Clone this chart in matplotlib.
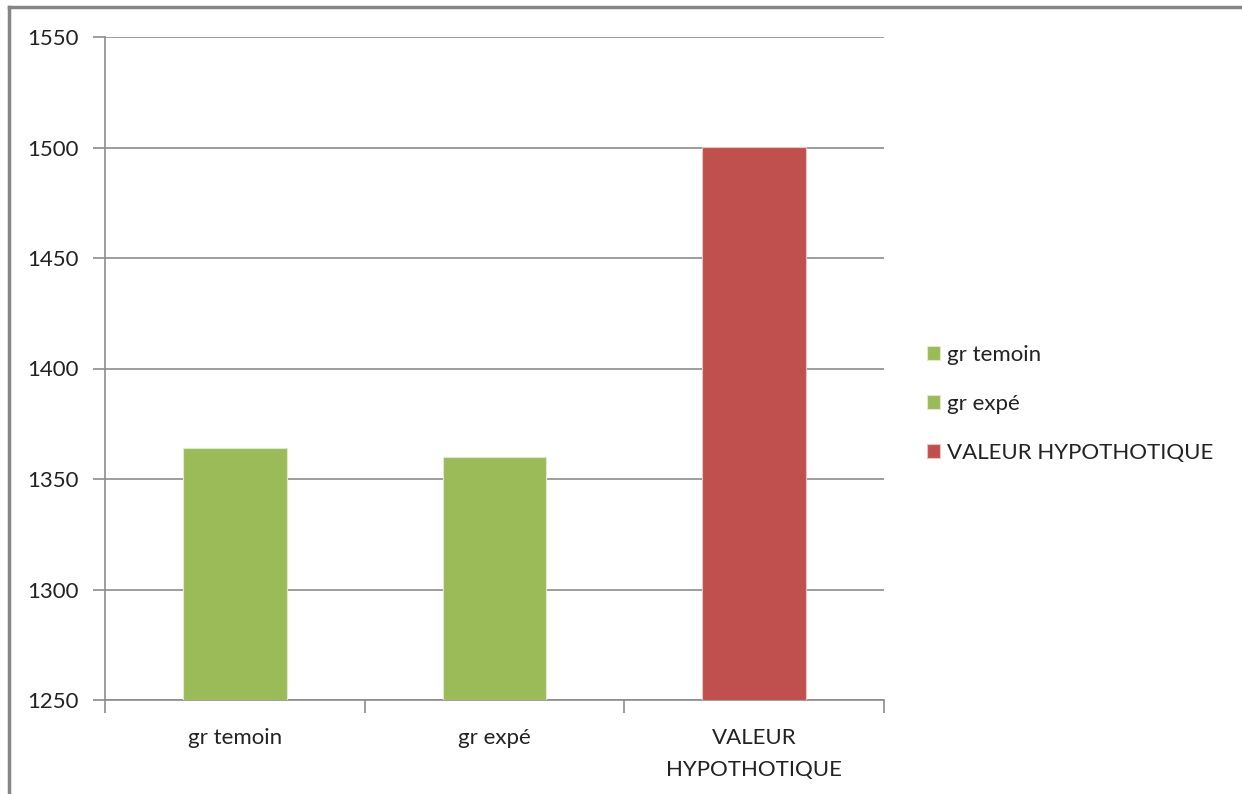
import matplotlib
matplotlib.use("Agg")
import matplotlib.pyplot as plt
from matplotlib.lines import Line2D

categories = ["gr temoin", "gr expé", "VALEUR\nHYPOTHOTIQUE"]
series_names = ["gr temoin", "gr expé", "VALEUR HYPOTHOTIQUE"]
values = [1364, 1360, 1500]
colors = ["#9BBB59", "#9BBB59", "#C0504D"]
y_ticks = [1250, 1300, 1350, 1400, 1450, 1500, 1550]

plt.rcParams["font.family"] = ["Lato", "DejaVu Sans"]

fig = plt.figure(figsize=(12.42, 7.94), dpi=100)
ax = fig.add_axes([105 / 1242, 1 - 700 / 794, (884 - 105) / 1242, (700 - 37) / 794])

grid_col = "#8c8c8c"
x = range(len(values))
for i, (v, c, name) in enumerate(zip(values, colors, series_names)):
    ax.bar(i, v - y_ticks[0], bottom=y_ticks[0], width=0.4, color=c,
           label=name, zorder=3, edgecolor="#dfe9cf" if c == "#9BBB59" else "#e8c4c3",
           linewidth=0.8)

ax.set_xlim(-0.5, len(values) - 0.5)
ax.set_ylim(y_ticks[0], y_ticks[-1])
ax.set_yticks(y_ticks)
ax.set_yticklabels([str(t) for t in y_ticks], fontsize=16, color="#222222")
ax.yaxis.grid(True, color=grid_col, linewidth=1.2, zorder=0)
ax.set_axisbelow(True)

# category labels centred, ticks on category boundaries
ax.set_xticks(list(x))
ax.set_xticklabels(categories, fontsize=16, color="#222222", linespacing=1.75)
ax.tick_params(axis="x", length=0, pad=20)
ax.set_xticks([i - 0.5 for i in range(len(values) + 1)], minor=True)
ax.tick_params(axis="x", which="minor", length=9, color=grid_col, width=1.2, direction="out")
ax.tick_params(axis="y", length=9, color=grid_col, width=1.2, pad=10)

for s in ["top", "right"]:
    ax.spines[s].set_visible(False)
for s in ["left", "bottom"]:
    ax.spines[s].set_color(grid_col)
    ax.spines[s].set_linewidth(1.2)

handles, labels = ax.get_legend_handles_labels()
leg = fig.legend(handles, labels, loc="center left", bbox_to_anchor=(907 / 1242, 1 - 404 / 794),
                 frameon=False, fontsize=16, handlelength=0.6, handleheight=0.6,
                 handletextpad=0.3, labelspacing=1.3)
for t in leg.get_texts():
    t.set_color("#222222")

# outer chart frame (top and left edges)
fig.add_artist(Line2D([9 / 1242, 1], [1 - 7 / 794, 1 - 7 / 794], transform=fig.transFigure,
                      color="#868686", linewidth=2.5))
fig.add_artist(Line2D([9 / 1242, 9 / 1242], [0, 1 - 7 / 794], transform=fig.transFigure,
                      color="#868686", linewidth=2.5))

fig.savefig("out.png", dpi=100)
